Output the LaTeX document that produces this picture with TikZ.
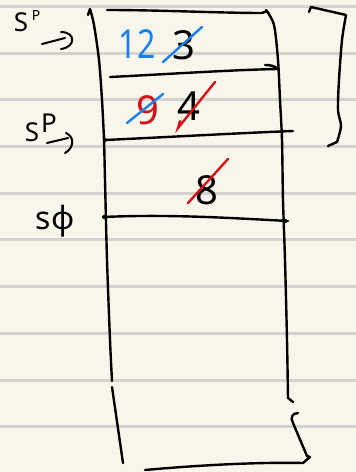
\documentclass[tikz,border=0pt]{standalone}
\usepackage{fontspec}
\setmainfont{Noto Sans}
\definecolor{paper}{RGB}{248,246,234}
\definecolor{rule}{RGB}{210,210,208}
\definecolor{penblue}{RGB}{24,128,240}
\definecolor{penred}{RGB}{214,16,24}
\tikzset{
  ink/.style={line width=2.4pt, line cap=round, line join=round, black},
  ruled/.style={line width=3pt, rule},
  strike/.style={line width=2.4pt, line cap=round},
  num/.style={inner sep=0pt, font=\fontsize{40}{40}\selectfont},
  lbl/.style={inner sep=0pt, font=\fontsize{26}{26}\selectfont}
}
\begin{document}
\begin{tikzpicture}[x=1pt,y=-1pt]
\fill[paper] (0,0) rectangle (356,472);
\useasboundingbox (0,0) rectangle (356,472);
% ruled lines
\foreach \yy in {6,53,99,146,193,239,286,333,380,426}
  \draw[ruled] (0,\yy) -- (356,\yy);
% left wall
\draw[ink] (88,15) -- (90,9) plot[smooth] coordinates {(90,9) (94,25) (99,60) (102,100) (104,140) (105,180) (107,260) (110,340) (112,381)};
\draw[ink] (112,387) -- (123,463);
% right wall
\draw[ink] plot[smooth] coordinates {(266,10) (274,25) (278,60) (280,100) (282,140) (283,200) (285,260) (287,340) (288,398)} -- (293,402);
\draw[ink] (298,413) .. controls (292,413) and (290,418) .. (293,423) -- (307,456) -- (310,457) -- (303,463);
% bottom
\draw[ink] (145,470) .. controls (200,465) and (260,462) .. (303,463);
% top line
\draw[ink] (107,10) .. controls (160,10) and (220,13) .. (262,13) .. controls (266,11) and (268,11) .. (269,14);
% line 2
\draw[ink] (110,77) .. controls (170,74) and (230,70) .. (277,69) .. controls (276,66) and (270,65) .. (265,65);
% line 3
\draw[ink] (105,140) .. controls (170,137) and (240,133) .. (293,131);
\fill (105,140) circle (2pt);
% line 4 (sp)
\draw[ink] (103,217) .. controls (170,214) and (230,218) .. (288,221);
\fill (104,217) circle (2pt);
\fill (285,221) circle (2.2pt);
% right brace
\draw[ink] (309,12) -- (311,7) -- (346,15) plot[smooth] coordinates {(346,15) (342,40) (339,80) (338,110) (341,126) (337,142)} -- (328,146);
% labels sp
\node[lbl] (s1) at (21,22) {S};
\node[inner sep=0pt, font=\fontsize{14}{14}\selectfont] (p1) at (36,15) {P};
\draw[ink, line width=2pt] (42,44) -- (65,38);
\draw[ink, line width=2pt] (61,32) .. controls (76,32) and (76,47) .. (61,49);
\node[lbl] (s2) at (32,132) {S};
\node[lbl] (p2) at (49,123) {P};
\draw[ink, line width=2pt] (47,143) -- (68,138);
\draw[ink, line width=2pt] (66,133) .. controls (75,137) and (74,148) .. (65,153);
\node[lbl, font=\fontsize{32}{32}\selectfont] (sp3) at (55,221) {sφ};
% stack contents
\node[num, text=penblue] (n12) at (137,44) {\scalebox{0.8}[1]{12}};
\node[num] (n3) at (184,45) {3};
\draw[strike, penblue] (163,62) -- (202,27);
\node[num, text=penred] (n9) at (148,110) {9};
\draw[strike, penblue] (127,123) -- (163,94);
\node[num] (n4) at (189,106) {4};
\draw[strike, penred] (215,82) -- (178,128) -- (180,121);
\node[num] (n8) at (207,190) {8};
\draw[strike, penred] (228,159) -- (188,203);
\end{tikzpicture}
\end{document}
